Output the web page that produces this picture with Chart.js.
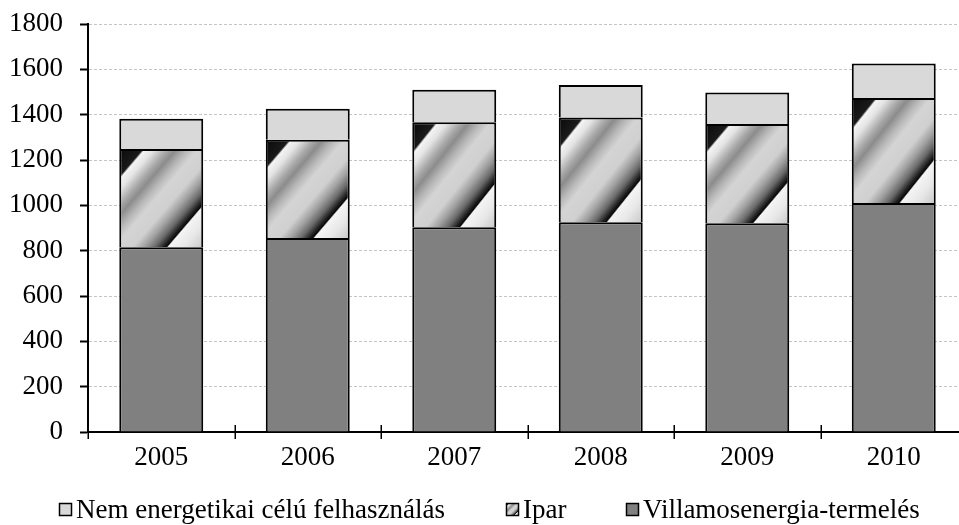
<!DOCTYPE html>
<html>
<head>
<meta charset="utf-8">
<script src="https://cdn.jsdelivr.net/npm/chart.js@4/dist/chart.umd.min.js"></script>
<style>
  html, body { margin: 0; padding: 0; background: #fff; overflow: hidden; }
  #wrap { width: 959px; height: 525px; overflow: hidden; position: relative; }
  canvas { display: block; }
</style>
</head>
<body>
<div id="wrap"><canvas id="c" width="967" height="525"></canvas></div>
<script>
// Years on the category axis
const years = ['2005', '2006', '2007', '2008', '2009', '2010'];
// Series values (stacked from the bottom up)
const villamosenergia = [815, 856, 903, 925, 921, 1010];
const ipar = [433, 433, 464, 462, 438, 463];
const nemEnergetikai = [134, 137, 143, 144, 139, 153];
// Value axis ticks
const yTicks = [0, 200, 400, 600, 800, 1000, 1200, 1400, 1600, 1800];

const FONT = "'Liberation Serif', 'Times New Roman', serif";
const FONT_SIZE = 27;
const BAR_PCT = 0.573;

// Diagonal grey banding used for the "Ipar" fill; position runs from the
// top-left corner (0) to the bottom-right corner (1) of the filled box.
const BAND_STOPS = [
  [0.00, '#0a0a0a'], [0.14, '#1a1a1a'], [0.155, '#f4f4f4'],
  [0.21, '#e4e4e4'], [0.29, '#a8a8a8'], [0.34, '#8c8c8c'],
  [0.41, '#b8b8b8'], [0.47, '#d4d4d4'], [0.58, '#d0d0d0'],
  [0.65, '#a0a0a0'], [0.71, '#6a6a6a'], [0.76, '#202020'],
  [0.78, '#080808'], [0.79, '#f4f4f4'], [0.88, '#e8e8e8'],
  [1.00, '#c8c8c8']
];

function bandGradient(ctx2d, x0, y0, w, h) {
  const k = 2 * w * h / (h * h + w * w);
  const g = ctx2d.createLinearGradient(x0, y0, x0 + k * h, y0 + k * w);
  BAND_STOPS.forEach(([p, c]) => g.addColorStop(p, c));
  return g;
}

function iparFill(context) {
  if (context.type !== 'data') return '#b0b0b0';
  const chart = context.chart;
  const xs = chart.scales.x, ys = chart.scales.y;
  if (!xs || !ys || !chart.chartArea) return '#b0b0b0';
  const i = context.dataIndex;
  const cat = xs.getPixelForValue(1) - xs.getPixelForValue(0);
  const w = cat * BAR_PCT;
  const x0 = xs.getPixelForValue(i) - w / 2;
  const yTop = ys.getPixelForValue(villamosenergia[i] + ipar[i]);
  const yBase = ys.getPixelForValue(villamosenergia[i]);
  return bandGradient(chart.ctx, x0, yTop, w, yBase - yTop);
}

// Category separator marks crossing the horizontal axis
const crossTicks = {
  id: 'crossTicks',
  afterDraw(chart) {
    const xs = chart.scales.x;
    const ctx = chart.ctx;
    const half = (xs.getPixelForValue(1) - xs.getPixelForValue(0)) / 2;
    const yAxis = chart.chartArea.bottom;
    ctx.save();
    ctx.strokeStyle = '#000';
    ctx.lineWidth = 1.5;
    for (let i = 0; i <= years.length; i++) {
      const x = Math.round(xs.getPixelForValue(i) - half) + 0.25;
      ctx.beginPath();
      ctx.moveTo(x, yAxis - 7);
      ctx.lineTo(x, yAxis + 7);
      ctx.stroke();
    }
    ctx.restore();
  }
};

// Legend row along the bottom edge
const bottomLegend = {
  id: 'bottomLegend',
  afterDraw(chart) {
    const ctx = chart.ctx;
    const items = [
      { text: 'Nem energetikai célú felhasználás', ds: 2, x: 59 },
      { text: 'Ipar', ds: 1, x: 506 },
      { text: 'Villamosenergia-termelés', ds: 0, x: 626 }
    ];
    const box = 13, boxTop = 503, baseline = 518;
    ctx.save();
    ctx.font = FONT_SIZE + 'px ' + FONT;
    ctx.textBaseline = 'alphabetic';
    ctx.fillStyle = '#000';
    items.forEach(it => {
      const ds = chart.data.datasets[it.ds];
      let fill = ds.backgroundColor;
      if (typeof fill === 'function') fill = bandGradient(ctx, it.x, boxTop, box, box);
      ctx.fillStyle = fill;
      ctx.fillRect(it.x, boxTop, box, box);
      ctx.strokeStyle = '#000';
      ctx.lineWidth = 1.5;
      ctx.strokeRect(it.x + 0.5, boxTop + 0.5, box - 1, box - 1);
      ctx.fillStyle = '#000';
      ctx.fillText(it.text, it.x + box + 4, baseline);
    });
    ctx.restore();
  }
};

new Chart(document.getElementById('c'), {
  type: 'bar',
  data: {
    labels: years,
    datasets: [
      { label: 'Villamosenergia-termelés', data: villamosenergia, backgroundColor: '#808080' },
      { label: 'Ipar', data: ipar, backgroundColor: iparFill },
      { label: 'Nem energetikai célú felhasználás', data: nemEnergetikai, backgroundColor: '#d9d9d9' }
    ]
  },
  options: {
    responsive: false,
    animation: false,
    events: [],
    datasets: {
      bar: {
        borderColor: '#000',
        borderWidth: 2,
        barPercentage: BAR_PCT,
        categoryPercentage: 1.0
      }
    },
    layout: { padding: { top: 24, left: 0, right: 0, bottom: 0 } },
    plugins: { legend: { display: false }, tooltip: { enabled: false } },
    scales: {
      x: {
        stacked: true,
        offset: true,
        grid: { display: false, drawTicks: false },
        border: { display: true, color: '#000', width: 2 },
        ticks: { color: '#000', font: { family: FONT, size: FONT_SIZE }, padding: 10, maxRotation: 0 },
        afterFit(scale) { scale.height = 93; scale.paddingLeft = 0; scale.paddingRight = 0; }
      },
      y: {
        stacked: true,
        min: 0,
        max: 1800,
        afterBuildTicks(scale) { scale.ticks = yTicks.map(v => ({ value: v })); },
        grid: {
          color: '#c4c4c4',
          lineWidth: 1,
          tickLength: 8,
          tickColor: '#000',
          tickWidth: 2,
          tickBorderDash: []
        },
        border: { display: true, color: '#000', width: 2, dash: [3, 2] },
        ticks: {
          color: '#000',
          font: { family: FONT, size: FONT_SIZE },
          padding: 17,
          callback: v => String(v)
        },
        afterFit(scale) { scale.width = 88; scale.paddingTop = 0; scale.paddingBottom = 0; }
      }
    }
  },
  plugins: [crossTicks, bottomLegend]
});
</script>
</body>
</html>
